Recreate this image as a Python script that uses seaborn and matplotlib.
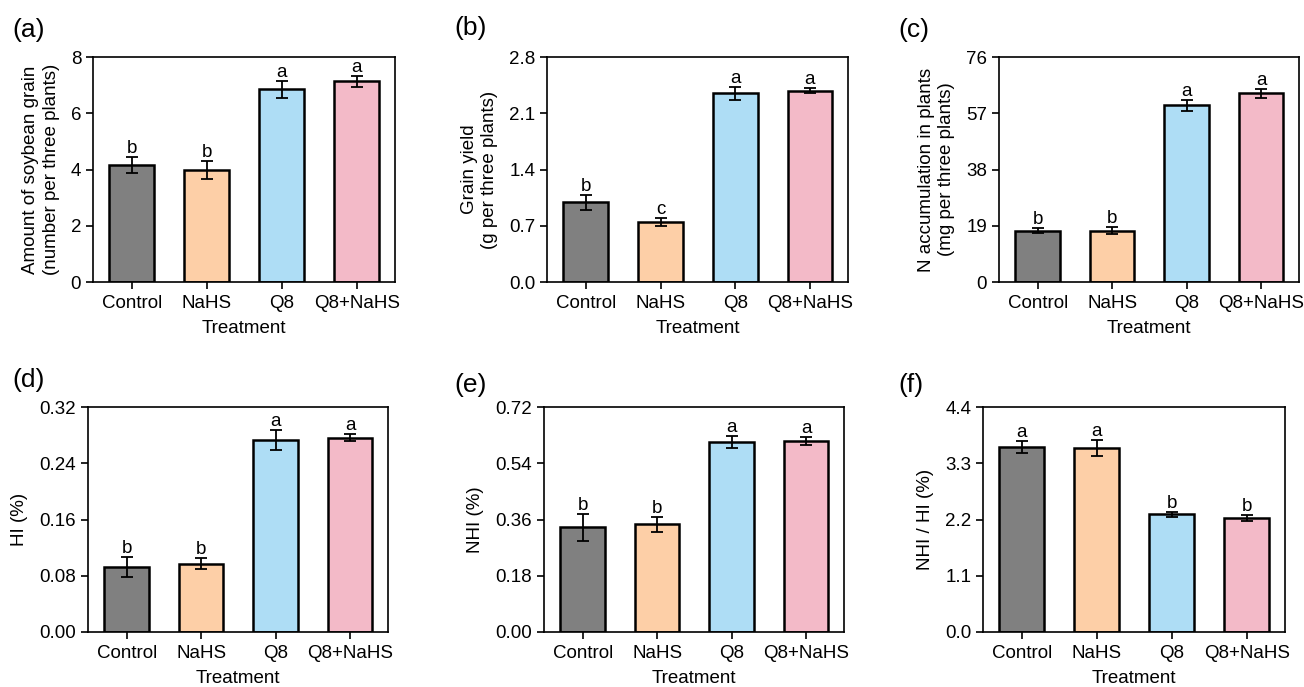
import numpy as np
import pandas as pd
import matplotlib
matplotlib.use("Agg")
import matplotlib.pyplot as plt
import seaborn as sns

categories = ["Control", "NaHS", "Q8", "Q8+NaHS"]
colors = ["#808080", "#FDCFA7", "#AEDDF5", "#F3BAC8"]

grain_amount = [4.15, 3.99, 6.86, 7.13]
grain_amount_err = [0.28, 0.31, 0.30, 0.20]
grain_amount_sig = ["b", "b", "a", "a"]

grain_yield = [0.99, 0.75, 2.35, 2.38]
grain_yield_err = [0.09, 0.05, 0.08, 0.03]
grain_yield_sig = ["b", "c", "a", "a"]

n_accum = [17.3, 17.3, 59.7, 63.7]
n_accum_err = [0.9, 1.2, 1.9, 1.6]
n_accum_sig = ["b", "b", "a", "a"]

hi = [0.092, 0.097, 0.273, 0.276]
hi_err = [0.014, 0.008, 0.014, 0.005]
hi_sig = ["b", "b", "a", "a"]

nhi = [0.335, 0.345, 0.608, 0.612]
nhi_err = [0.043, 0.024, 0.019, 0.013]
nhi_sig = ["b", "b", "a", "a"]

ratio = [3.62, 3.60, 2.30, 2.23]
ratio_err = [0.12, 0.15, 0.05, 0.05]
ratio_sig = ["a", "a", "b", "b"]

panels = [
    ("(a)", "Amount of soybean grain\n(number per three plants)", grain_amount, grain_amount_err, grain_amount_sig, [0, 2, 4, 6, 8], "{:.0f}"),
    ("(b)", "Grain yield\n(g per three plants)", grain_yield, grain_yield_err, grain_yield_sig, [0.0, 0.7, 1.4, 2.1, 2.8], "{:.1f}"),
    ("(c)", "N accumulation in plants\n(mg per three plants)", n_accum, n_accum_err, n_accum_sig, [0, 19, 38, 57, 76], "{:.0f}"),
    ("(d)", "HI (%)", hi, hi_err, hi_sig, [0.00, 0.08, 0.16, 0.24, 0.32], "{:.2f}"),
    ("(e)", "NHI (%)", nhi, nhi_err, nhi_sig, [0.00, 0.18, 0.36, 0.54, 0.72], "{:.2f}"),
    ("(f)", "NHI / HI (%)", ratio, ratio_err, ratio_sig, [0.0, 1.1, 2.2, 3.3, 4.4], "{:.1f}"),
]

sns.set_theme(style="ticks")
plt.rcParams["font.family"] = ["Liberation Sans", "DejaVu Sans"]
plt.rcParams["text.color"] = "black"
plt.rcParams["axes.labelcolor"] = "black"

W, H = 1304, 687
fig = plt.figure(figsize=(W / 100, H / 100), dpi=100)

# axes boxes in pixels: left, top, right, bottom
boxes = [
    (93, 57, 395, 282),
    (547, 57, 848, 282),
    (999, 57, 1299, 282),
    (88, 407, 388, 632),
    (544, 407, 844, 632),
    (983, 407, 1285, 632),
]
label_pos = [(12, 30), (454, 28), (898, 30), (12, 380), (454, 385), (898, 385)]
FS = 13.5

for (tag, ylabel, vals, errs, sig, ticks, fmt), (l, t, r, b), (lx, ly) in zip(panels, boxes, label_pos):
    ax = fig.add_axes([l / W, 1 - b / H, (r - l) / W, (b - t) / H])
    df = pd.DataFrame({"Treatment": categories, "value": vals})
    sns.barplot(data=df, x="Treatment", y="value", hue="Treatment",
                palette=colors, order=categories, hue_order=categories,
                width=0.6, edgecolor="black", linewidth=1.8, legend=False,
                errorbar=None, ax=ax, saturation=1)
    ax.errorbar(np.arange(len(categories)), vals, yerr=errs, fmt="none",
                ecolor="black", elinewidth=1.3, capsize=4.5, capthick=1.3)
    for i, (v, e, s) in enumerate(zip(vals, errs, sig)):
        ax.annotate(s, (i, v + e), xytext=(0, 0), textcoords="offset points",
                    ha="center", va="bottom", fontsize=FS)
    ax.set_xlim(-0.52, 3.51)
    ax.set_ylim(ticks[0], ticks[-1])
    ax.set_yticks(ticks)
    ax.set_yticklabels([fmt.format(v) for v in ticks])
    ax.set_xlabel("Treatment", fontsize=FS, labelpad=6)
    ax.set_ylabel(ylabel, fontsize=FS, labelpad=8, linespacing=1.25)
    ax.tick_params(axis="both", direction="out", length=5, width=1.2,
                   labelsize=FS, color="black", labelcolor="black")
    ax.tick_params(axis="x", pad=4)
    for sp in ax.spines.values():
        sp.set_visible(True)
        sp.set_linewidth(1.2)
        sp.set_color("black")
    fig.text(lx / W, 1 - ly / H, tag, fontsize=19, ha="left", va="center")

fig.savefig("out.png", dpi=100, facecolor="white")
